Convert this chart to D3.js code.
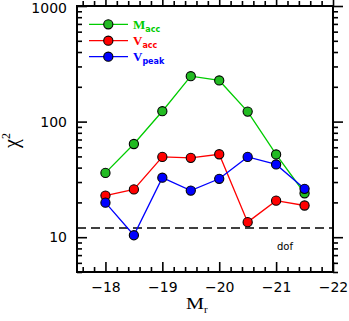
<!DOCTYPE html>
<html><head><meta charset="utf-8">
<script src="https://cdn.jsdelivr.net/npm/d3@7/dist/d3.min.js"></script>
<style>body{margin:0;background:#fff}svg{display:block}</style>
</head><body>
<svg id="c" width="349" height="321"></svg>
<script>
const mags = [-18, -18.5, -19, -19.5, -20, -20.5, -21, -21.5];
const macc = [36, 64, 123, 247, 227, 122, 52, 24];
const vacc = [22.9, 25.9, 49.5, 48.6, 52.2, 13.5, 20.7, 18.8];
const vpeak = [19.9, 10.4, 32.7, 25.3, 32.0, 49.5, 42.6, 26.2];
const dof = 12;
const xTicks = [-18, -19, -20, -21, -22];
const yTicks = [10, 100, 1000];
const series = [
  {name: "M", sub: "acc", values: macc, color: "#00cc00", fill: "#22bb22"},
  {name: "V", sub: "acc", values: vacc, color: "#ff0000", fill: "#ff0000"},
  {name: "V", sub: "peak", values: vpeak, color: "#0000ff", fill: "#0000ff"}
];

const svg = d3.select("#c");
const L = 77, R = 333, T = 6, B = 272;
const x = d3.scaleLinear().domain([-17.5, -22]).range([L, R]);
const y = d3.scaleLog().domain([5, 1000]).range([B, T]);

const xMinor = d3.range(-17.6, -22.01, -0.2).map(v => +v.toFixed(1)).filter(v => !xTicks.includes(v));
const yMinor = [];
[1, 10, 100].forEach(d => { for (let k = 2; k <= 9; k++) { const v = d * k; if (v >= 5 && v < 1000) yMinor.push(v); } });

const tickStyle = g => g.selectAll("line").attr("stroke", "#000").attr("stroke-width", 1.6);

function xAxis(pos, orient) {
  const mk = orient === "bottom" ? d3.axisBottom : d3.axisTop;
  const sgn = orient === "bottom" ? -1 : 1;
  const gM = svg.append("g").attr("transform", `translate(0,${pos})`)
    .call(mk(x).tickValues(xTicks).tickSize(sgn * 10).tickSizeOuter(0).tickFormat(orient === "bottom" ? (d => "\u2212" + Math.abs(d)) : ""));
  gM.select(".domain").remove();
  tickStyle(gM);
  gM.selectAll("text").attr("font-family", "DejaVu Sans").attr("font-size", 14).attr("fill", "#000")
    .attr("y", 10).attr("dy", "0.71em");
  const gm = svg.append("g").attr("transform", `translate(0,${pos})`)
    .call(mk(x).tickValues(xMinor).tickSize(sgn * 5).tickSizeOuter(0).tickFormat(""));
  gm.select(".domain").remove();
  tickStyle(gm);
}
function yAxis(pos, orient) {
  const mk = orient === "left" ? d3.axisLeft : d3.axisRight;
  const sgn = orient === "left" ? -1 : 1;
  const gM = svg.append("g").attr("transform", `translate(${pos},0)`)
    .call(mk(y).tickValues(yTicks).tickSize(sgn * 10).tickSizeOuter(0).tickFormat(orient === "left" ? d3.format("d") : ""));
  gM.select(".domain").remove();
  tickStyle(gM);
  gM.selectAll("text").attr("font-family", "DejaVu Sans").attr("font-size", 14).attr("fill", "#000")
    .attr("x", -10).attr("dy", d => d === 1000 ? "0.45em" : "0.32em");
  const gm = svg.append("g").attr("transform", `translate(${pos},0)`)
    .call(mk(y).tickValues(yMinor).tickSize(sgn * 5).tickSizeOuter(0).tickFormat(""));
  gm.select(".domain").remove();
  tickStyle(gm);
}
xAxis(B, "bottom"); xAxis(T, "top"); yAxis(L, "left"); yAxis(R, "right");

svg.append("rect").attr("x", L).attr("y", T).attr("width", R - L).attr("height", B - T)
  .attr("fill", "none").attr("stroke", "#000").attr("stroke-width", 2);

svg.append("line").attr("x1", L).attr("x2", R).attr("y1", y(dof)).attr("y2", y(dof))
  .attr("stroke", "#000").attr("stroke-width", 1.5).attr("stroke-dasharray", "9,5");
svg.append("text").attr("x", 277).attr("y", 250).attr("font-family", "DejaVu Sans")
  .attr("font-size", 10).text("dof");

const line = d3.line().x((d, i) => x(mags[i])).y(d => y(d));
series.forEach(s => {
  svg.append("path").datum(s.values).attr("d", line).attr("fill", "none")
    .attr("stroke", s.color).attr("stroke-width", 1.3);
});
series.forEach(s => {
  svg.append("g").selectAll("circle").data(s.values).join("circle")
    .attr("cx", (d, i) => x(mags[i])).attr("cy", d => y(d)).attr("r", 4.6)
    .attr("fill", s.fill).attr("stroke", "#000").attr("stroke-width", 1.1);
});

const legY = [24.3, 40.7, 56.7];
series.forEach((s, i) => {
  const g = svg.append("g");
  g.append("line").attr("x1", 89).attr("x2", 128).attr("y1", legY[i]).attr("y2", legY[i])
    .attr("stroke", s.color).attr("stroke-width", 1.3);
  g.append("circle").attr("cx", 108.3).attr("cy", legY[i]).attr("r", 4.6)
    .attr("fill", s.fill).attr("stroke", "#000").attr("stroke-width", 1.1);
  const t = g.append("text").attr("x", 133).attr("y", legY[i] + 4.5)
    .attr("font-family", "Liberation Serif").attr("font-size", 13).attr("font-weight", "bold").attr("fill", s.color);
  t.append("tspan").text(s.name);
  t.append("tspan").attr("font-size", 8).attr("dy", 3).attr("font-family", "DejaVu Sans").text(s.sub);
});

const xl = svg.append("text").attr("x", 186).attr("y", 309).attr("font-family", "Liberation Serif")
  .attr("font-size", 17).attr("fill", "#000");
xl.append("tspan").attr("textLength", 18).attr("lengthAdjust", "spacingAndGlyphs").text("M");
xl.append("tspan").attr("font-size", 11).attr("dy", 4).text("r");

const yl = svg.append("text").attr("transform", "translate(18,148) rotate(-90)")
  .attr("font-family", "Liberation Serif").attr("font-size", 20).attr("fill", "#000");
yl.append("tspan").text("\u03c7");
yl.append("tspan").attr("font-size", 12).attr("dy", -8).text("2");
</script>
</body></html>
